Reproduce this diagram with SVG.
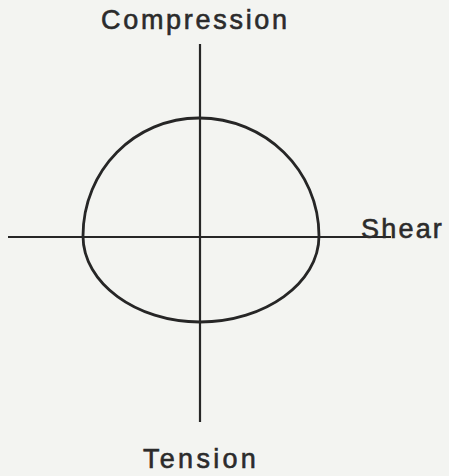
<svg xmlns="http://www.w3.org/2000/svg" width="449" height="476" viewBox="0 0 449 476">
<style>
.ax{stroke:#262626;stroke-width:2.2;fill:none}
.cv{stroke:#262626;stroke-width:2.8;fill:none}
.lb{font-family:"Liberation Sans",Arial,sans-serif;font-size:27px;fill:#2b2b2b;stroke:#2b2b2b;stroke-width:0.6;letter-spacing:2.7px}
</style>
<rect width="449" height="476" fill="#f3f4f1"/>
<g id="connectors">
<line class="ax" x1="200" y1="44" x2="200" y2="422"/>
<line class="ax" x1="8" y1="237" x2="391" y2="237"/>
</g>
<g id="envelope">
<path class="cv" d="M83,236 C83,170 135,118 199,118 C265,118 319,170 319,236 C319,283 265,322 200,322 C136,322 83,283 83,236 Z"/>
</g>
<g id="compression"><text class="lb" x="101" y="29">Compression</text></g>
<g id="shear"><text class="lb" x="361" y="238" style="letter-spacing:2.2px">Shear</text></g>
<g id="tension"><text class="lb" x="143" y="468" style="letter-spacing:3.3px">Tension</text></g>
</svg>
